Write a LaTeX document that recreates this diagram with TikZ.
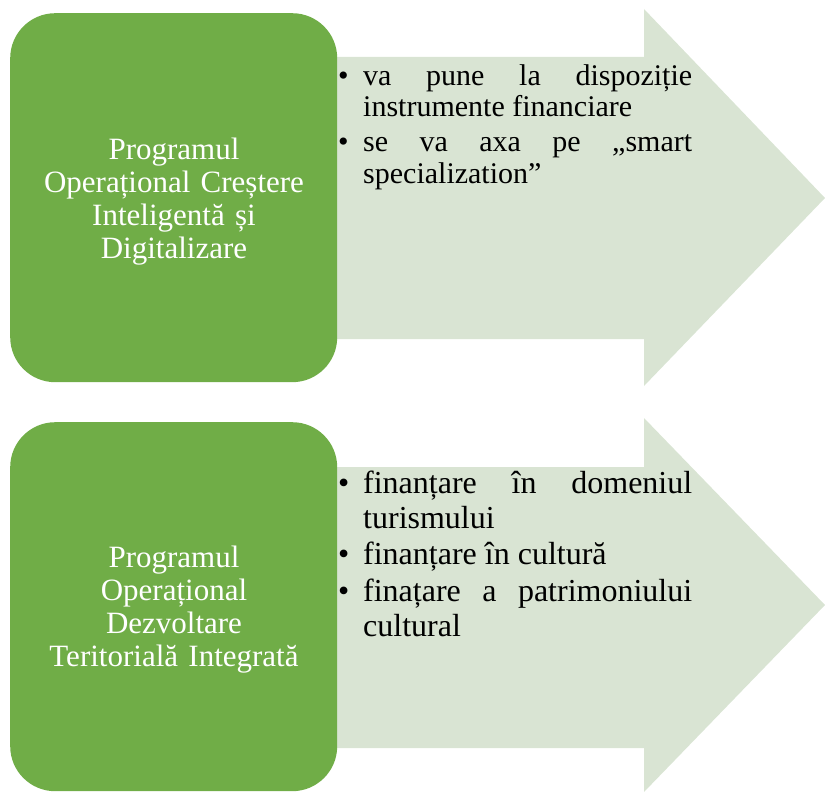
\documentclass[tikz,border=0pt]{standalone}
\usepackage{fontspec}
\setmainfont{Liberation Serif}
\definecolor{pgreen}{RGB}{112,173,71}
\definecolor{plight}{RGB}{217,228,211}
\newcommand\pitem[1]{\noindent\hangindent=25pt\hangafter=1\makebox[25pt][l]{\textbullet}#1\par}
\begin{document}
\begin{tikzpicture}[x=1pt,y=-1pt,
  prog/.style={fill=pgreen, draw=none, rounded corners=45pt, minimum width=327pt, minimum height=369pt, anchor=north west, inner sep=0pt},
  arr/.style={fill=plight, draw=none},
  progtext/.style={text=white, font=\fontsize{31}{33}\selectfont, align=center, text width=320pt, inner sep=0pt, anchor=base},
  listtext/.style={text=black, align=justify, text width=354pt, inner sep=0pt, anchor=base west,
    execute at begin node={\hyphenpenalty=10000\tolerance=10000\relax}}]
\useasboundingbox (0,0) rectangle (825,792);
% arrows
\fill[arr] (337,57) -- (644,57) -- (644,9) -- (825,198) -- (644,386) -- (644,339) -- (337,339) -- cycle;
\fill[arr] (337,467) -- (644,467) -- (644,418) -- (825,605) -- (644,792) -- (644,748) -- (337,748) -- cycle;
% green boxes
\node[prog] (p1) at (10,13) {};
\node[prog] (p2) at (10,422) {};
% green texts
\node[progtext] (t1) at (174,159) {Programul\\Operațional Creștere\\Inteligentă și\\Digitalizare};
\node[progtext] (t2) at (174,567) {Programul\\Operațional\\Dezvoltare\\Teritorială Integrată};
% lists
\node[listtext, font=\fontsize{30}{31.5}\selectfont] (l1) at (338,85) {\setlength{\parskip}{3.5pt}\pitem{va pune la dispoziție instrumente financiare}\pitem{se va axa pe „smart specialization”}};
\node[listtext, font=\fontsize{32}{35}\selectfont] (l2) at (338,493) {\setlength{\parskip}{1.5pt}\pitem{finanțare în domeniul turismului}\pitem{finanțare în cultură}\pitem{finațare a patrimoniului cultural}};
\end{tikzpicture}
\end{document}
